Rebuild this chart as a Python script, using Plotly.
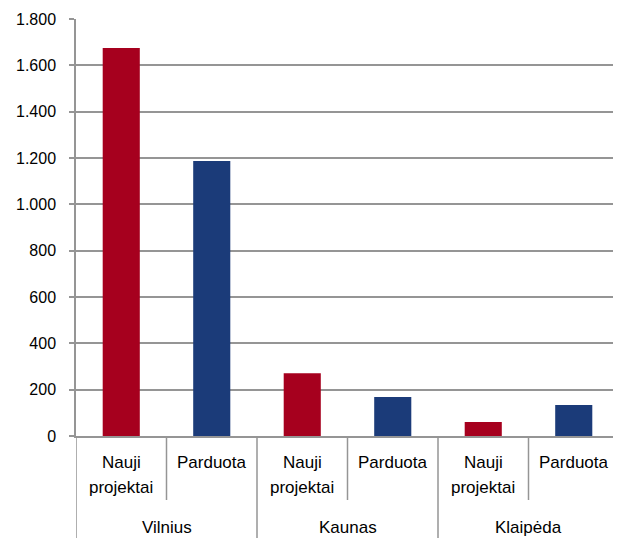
import plotly.graph_objects as go

cities = ["Vilnius", "Kaunas", "Klaipėda"]
kinds = ["Nauji projektai", "Parduota"]
nauji = [1675, 271, 60]
parduota = [1187, 168, 134]
colors = ["#A6001E", "#1B3B79"]

# page body has an 8px default margin, so the figure is sized to fit the window
W, H = 613, 530
L, R, T, B = 68, 2, 11, 102
plot_h = H - T - B

xs, yv, cols, kind_of = [], [], [], []
for i, c in enumerate(cities):
    for j, (k, v) in enumerate(zip(kinds, [nauji[i], parduota[i]])):
        xs.append(f"{c} | {k}")
        yv.append(v)
        cols.append(colors[j])
        kind_of.append(k)

fig = go.Figure(go.Bar(x=xs, y=yv, marker=dict(color=cols, line=dict(width=0)),
                       width=0.41, showlegend=False))

grid = "#959595"
ann = []
shapes = []
font_x = dict(family="Liberation Sans, Arial", size=17, color="#000")
for idx, (xc, k) in enumerate(zip(xs, kind_of)):
    lines = k.split(" ") if " " in k else [k]
    for li, t in enumerate(lines):
        ann.append(dict(x=xc, xref="x", y=0, yref="paper", yanchor="middle",
                        yshift=-(26 + 25 * li), text=t, showarrow=False, font=font_x))
for gi, c in enumerate(cities):
    ann.append(dict(x=gi * 2 + 0.5, xref="x", y=0, yref="paper", yanchor="middle",
                    yshift=-91, text=c, showarrow=False, font=font_x))
    shapes.append(dict(type="line", xref="x", yref="paper", x0=gi * 2 + 0.5, x1=gi * 2 + 0.5,
                       y0=0, y1=-64 / plot_h, line=dict(color=grid, width=1.5)))
for gi in range(len(cities) + 1):
    xb = gi * 2 - 0.5
    shapes.append(dict(type="line", xref="x", yref="paper", x0=xb, x1=xb,
                       y0=0, y1=-B / plot_h, line=dict(color=grid, width=1.5)))

fig.update_layout(
    width=W, height=H,
    margin=dict(l=L, r=R, t=T, b=B, autoexpand=False),
    paper_bgcolor="white", plot_bgcolor="white",
    separators=",.",
    font=dict(family="Liberation Sans, Arial", size=16, color="#000"),
    annotations=ann, shapes=shapes,
)
fig.update_yaxes(range=[0, 1800], dtick=200, tickformat=",d", automargin=False,
                 tickfont=dict(family="Liberation Sans, Arial", size=16, color="#000"),
                 showgrid=True, gridcolor=grid, gridwidth=1.5,
                 showline=True, linecolor=grid, linewidth=1.5,
                 ticks="outside", ticklen=5, tickcolor=grid, tickwidth=1.5,
                 ticklabelstandoff=10, zeroline=False)
fig.update_xaxes(type="category", range=[-0.5, len(xs) - 0.5], showticklabels=False,
                 automargin=False, showgrid=False, ticks="",
                 showline=True, linecolor=grid, linewidth=1.5)

fig.write_html("out.html")
